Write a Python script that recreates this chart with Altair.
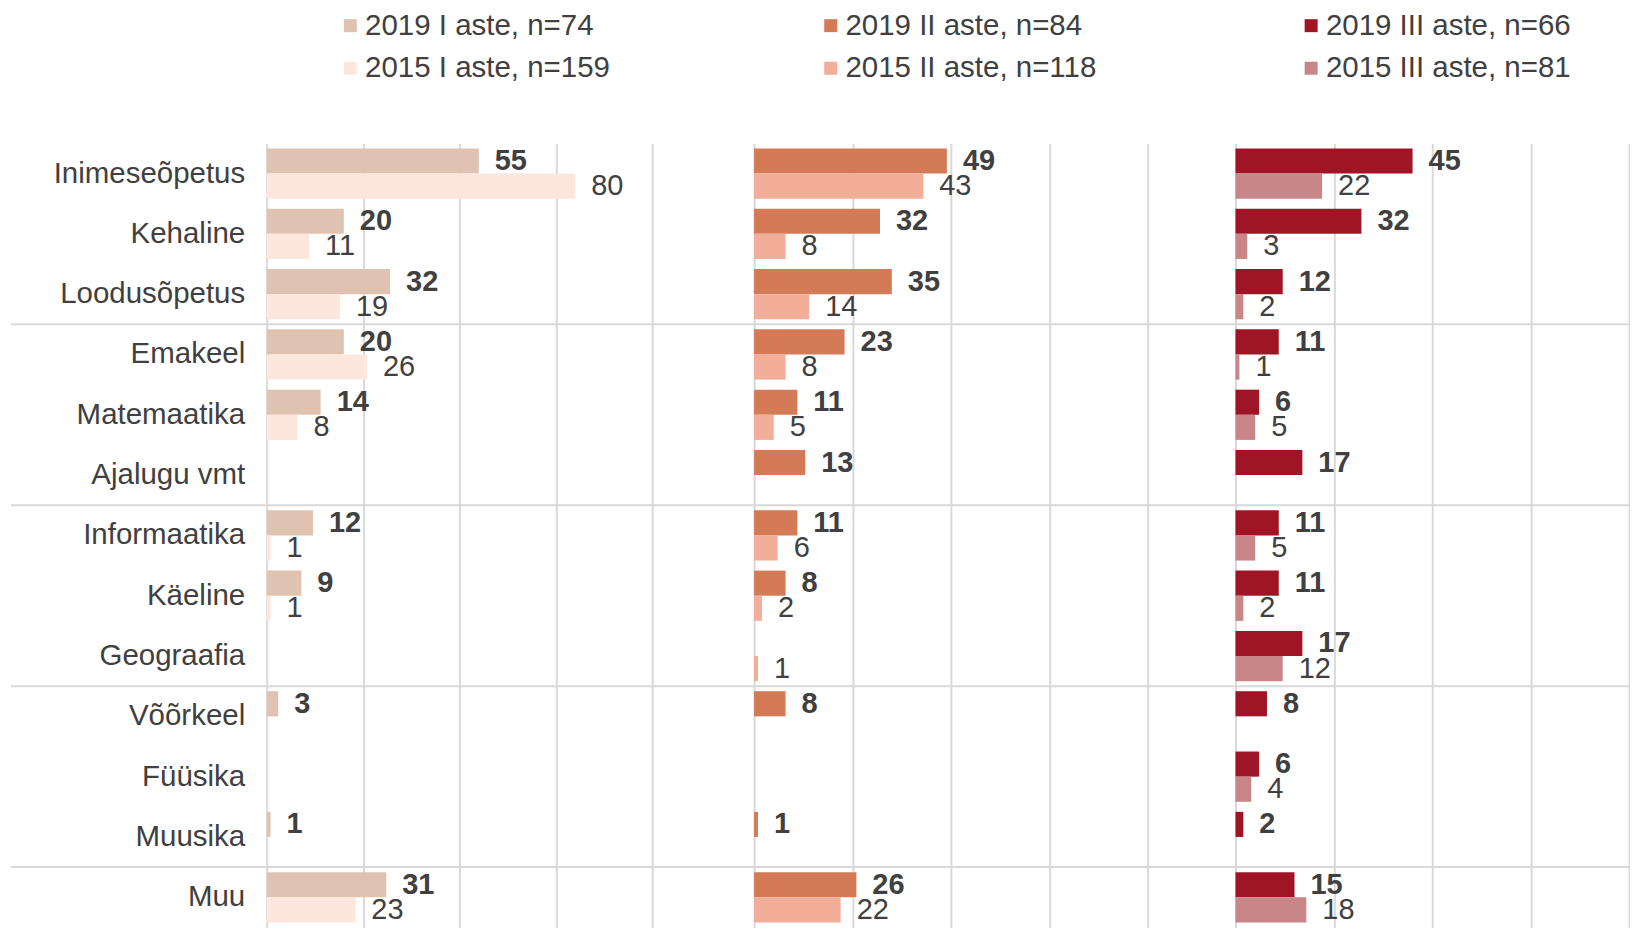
import altair as alt
import pandas as pd

FONT = "Liberation Sans, Arial, Helvetica, sans-serif"
TXT = "#404040"
GRID = "#D9D9D9"

cats = ["Inimeseõpetus", "Kehaline", "Loodusõpetus", "Emakeel", "Matemaatika",
        "Ajalugu vmt", "Informaatika", "Käeline", "Geograafia", "Võõrkeel",
        "Füüsika", "Muusika", "Muu"]
sep_cats = ["Emakeel", "Informaatika", "Võõrkeel", "Muu"]
N = None
i_2019 = [55, 20, 32, 20, 14, N, 12, 9, N, 3, N, 1, 31]
i_2015 = [80, 11, 19, 26, 8, N, 1, 1, N, N, N, N, 23]
ii_2019 = [49, 32, 35, 23, 11, 13, 11, 8, N, 8, N, 1, 26]
ii_2015 = [43, 8, 14, 8, 5, N, 6, 2, 1, N, N, N, 22]
iii_2019 = [45, 32, 12, 11, 6, 17, 11, 11, 17, 8, 6, 2, 15]
iii_2015 = [22, 3, 2, 1, 5, N, 5, 2, 12, N, 4, N, 18]

# legend order (filled column by column: 2 rows x 3 columns)
series_names = ["2019 I aste, n=74", "2015 I aste, n=159",
                "2019 II aste, n=84", "2015 II aste, n=118",
                "2019 III aste, n=66", "2015 III aste, n=81"]
series_colors = ["#DFC3B0", "#FDE7DD", "#D57A56", "#F2AE98", "#A01526", "#C88689"]
grid_ticks = [0, 25, 50, 75, 100]
years = ["2019", "2015"]


def make_df(v19, v15, s19, s15):
    rows = []
    for c, a, b in zip(cats, v19, v15):
        if a is not None:
            rows.append({"cat": c, "year": "2019", "value": a, "series": s19})
        if b is not None:
            rows.append({"cat": c, "year": "2015", "value": b, "series": s15})
    return pd.DataFrame(rows)


color_scale = alt.Scale(domain=series_names, range=series_colors)
legend = alt.Legend(orient="none", legendX=69, legendY=-133, columns=3, title=None,
                    symbolType="square", symbolSize=169, symbolStrokeWidth=0,
                    labelFontSize=29.5, labelColor=TXT, labelFont=FONT, labelLimit=400,
                    labelOffset=0, columnPadding=200, rowPadding=12, gridAlign="all",
                    padding=0)
yscale = alt.Scale(domain=cats, paddingInner=0, paddingOuter=0)
offscale = alt.Scale(domain=years, paddingInner=0, paddingOuter=0.2)
H = 785


def panel(df, width, xmax, rx1, rx2, show_axis):
    if show_axis:
        yaxis = alt.Axis(labelFontSize=29.5, labelColor=TXT, labelFont=FONT, ticks=False,
                         domain=False, grid=False, labelPadding=22, labelLimit=400, title=None)
    else:
        yaxis = None
    xenc = alt.X("value:Q", scale=alt.Scale(domain=[0, xmax], nice=False, zero=True),
                 axis=alt.Axis(values=grid_ticks, labels=False, ticks=False, domain=False,
                               title=None, grid=True, gridColor=GRID, gridWidth=2))
    yenc = alt.Y("cat:N", sort=cats, scale=yscale, axis=yaxis, title=None)
    yoff = alt.YOffset("year:N", sort=years, scale=offscale)
    bars = alt.Chart(df).mark_bar().encode(
        x=xenc, y=yenc, yOffset=yoff,
        color=alt.Color("series:N", scale=color_scale, legend=legend))
    t19 = alt.Chart(df).transform_filter(alt.datum.year == "2019").mark_text(
        align="left", baseline="middle", dx=16, fontSize=29, fontWeight="bold",
        color=TXT, font=FONT).encode(x=xenc, y=yenc, yOffset=yoff, text="value:Q")
    t15 = alt.Chart(df).transform_filter(alt.datum.year == "2015").mark_text(
        align="left", baseline="middle", dx=16, fontSize=29,
        color=TXT, font=FONT).encode(x=xenc, y=yenc, yOffset=yoff, text="value:Q")
    seps = alt.Chart(pd.DataFrame({"cat": sep_cats})).mark_rule(
        color=GRID, strokeWidth=2).encode(
        y=alt.Y("cat:N", sort=cats, scale=yscale, axis=yaxis, title=None, bandPosition=0),
        x=alt.value(rx1), x2=alt.value(rx2))
    return alt.layer(seps, bars, t19, t15).properties(width=width, height=H)


p1 = panel(make_df(i_2019, i_2015, series_names[0], series_names[1]), 400, 103.6, -256, 488, True)
p2 = panel(make_df(ii_2019, ii_2015, series_names[2], series_names[3]), 394, 100, 0, 482, False)
p3 = panel(make_df(iii_2019, iii_2015, series_names[4], series_names[5]), 394, 100, 0, 394, False)

chart = alt.hconcat(p1, p2, p3, spacing=88, bounds="flush").resolve_scale(
    color="shared").properties(
    padding={"left": 2, "top": 2, "right": 0, "bottom": 0}
).configure(font=FONT).configure_view(stroke=None)

chart.save("out.html", embed_options={"renderer": "svg", "actions": False})
